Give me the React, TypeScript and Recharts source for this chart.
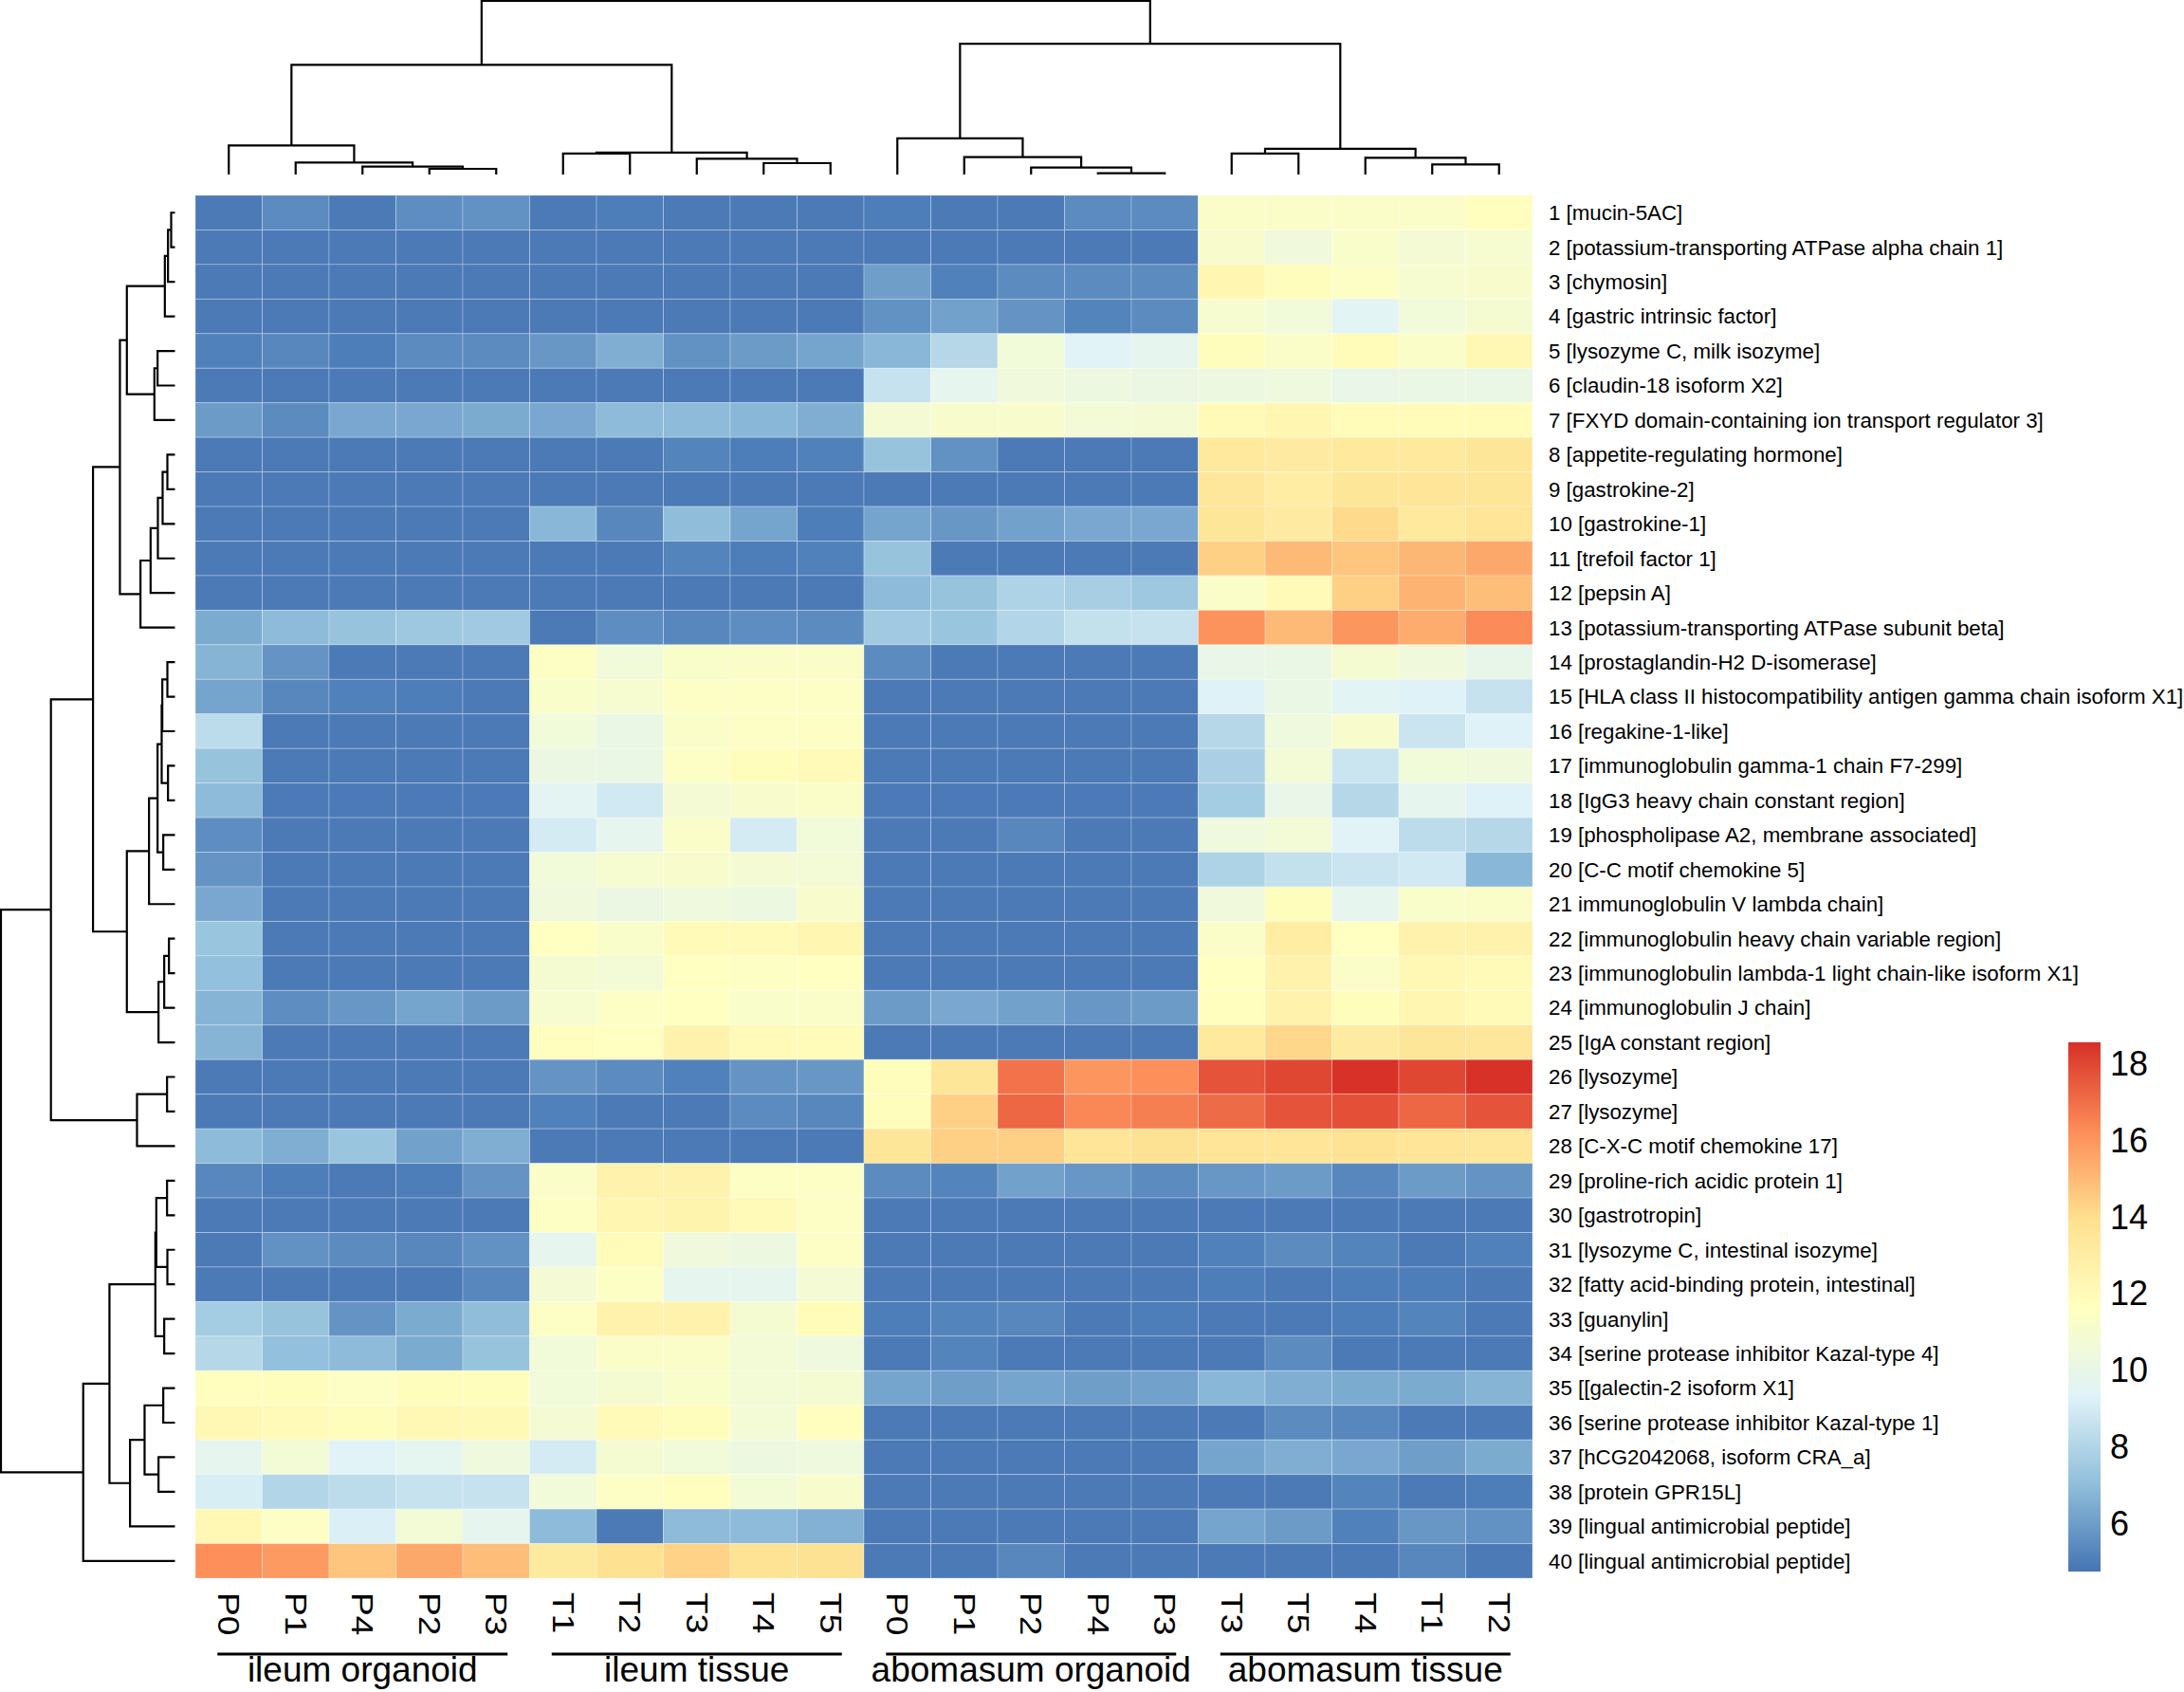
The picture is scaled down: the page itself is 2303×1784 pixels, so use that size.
import React from "react";
import { ScatterChart, Scatter, XAxis, YAxis, BarChart, Bar } from "recharts";

const FONT = "'Liberation Sans', Arial, Helvetica, sans-serif";

const colLabels = ["P0", "P1", "P4", "P2", "P3", "T1", "T2", "T3", "T4", "T5", "P0", "P1", "P2", "P4", "P3", "T3", "T5", "T4", "T1", "T2"];
const groupLabels = ["ileum organoid", "ileum tissue", "abomasum organoid", "abomasum tissue"];

const rowLabels = [
  "1 [mucin-5AC]",
  "2 [potassium-transporting ATPase alpha chain 1]",
  "3 [chymosin]",
  "4 [gastric intrinsic factor]",
  "5 [lysozyme C, milk isozyme]",
  "6 [claudin-18 isoform X2]",
  "7 [FXYD domain-containing ion transport regulator 3]",
  "8 [appetite-regulating hormone]",
  "9 [gastrokine-2]",
  "10 [gastrokine-1]",
  "11 [trefoil factor 1]",
  "12 [pepsin A]",
  "13 [potassium-transporting ATPase subunit beta]",
  "14 [prostaglandin-H2 D-isomerase]",
  "15 [HLA class II histocompatibility antigen gamma chain isoform X1]",
  "16 [regakine-1-like]",
  "17 [immunoglobulin gamma-1 chain F7-299]",
  "18 [IgG3 heavy chain constant region]",
  "19 [phospholipase A2, membrane associated]",
  "20 [C-C motif chemokine 5]",
  "21 immunoglobulin V lambda chain]",
  "22 [immunoglobulin heavy chain variable region]",
  "23 [immunoglobulin lambda-1 light chain-like isoform X1]",
  "24 [immunoglobulin J chain]",
  "25 [IgA constant region]",
  "26 [lysozyme]",
  "27 [lysozyme]",
  "28 [C-X-C motif chemokine 17]",
  "29 [proline-rich acidic protein 1]",
  "30 [gastrotropin]",
  "31 [lysozyme C, intestinal isozyme]",
  "32 [fatty acid-binding protein, intestinal]",
  "33 [guanylin]",
  "34 [serine protease inhibitor Kazal-type 4]",
  "35 [[galectin-2 isoform X1]",
  "36 [serine protease inhibitor Kazal-type 1]",
  "37 [hCG2042068, isoform CRA_a]",
  "38 [protein GPR15L]",
  "39 [lingual antimicrobial peptide]",
  "40 [lingual antimicrobial peptide]",
];

// values per group, one row of 5 columns per protein (display order)
const ileumOrganoid = [
  [4.9, 5.4, 4.9, 5.5, 5.6], [4.9, 4.9, 4.9, 4.9, 4.9], [4.9, 4.9, 4.9, 4.9, 4.9], [4.9, 4.9, 4.9, 4.9, 4.9],
  [5.1, 5.3, 5.0, 5.4, 5.4], [4.9, 4.9, 4.9, 4.9, 4.9], [5.9, 5.4, 6.3, 6.3, 6.4], [4.9, 4.9, 4.9, 4.9, 4.9],
  [4.9, 4.9, 4.9, 4.9, 4.9], [4.9, 4.9, 4.9, 4.9, 4.9], [4.9, 4.9, 4.9, 4.9, 4.9], [4.9, 4.9, 4.9, 4.9, 4.9],
  [6.4, 6.9, 7.2, 7.4, 7.5], [6.7, 5.7, 4.9, 4.9, 4.9], [6.2, 5.3, 5.1, 5.0, 4.9], [8.3, 4.9, 4.9, 4.9, 4.9],
  [7.2, 4.9, 4.9, 4.9, 4.9], [6.9, 4.9, 4.9, 4.9, 4.9], [5.5, 4.9, 4.9, 4.9, 4.9], [5.7, 4.9, 4.9, 4.9, 4.9],
  [6.3, 4.9, 4.9, 4.9, 4.9], [7.3, 4.9, 4.9, 4.9, 4.9], [7.1, 4.9, 4.9, 4.9, 4.9], [6.7, 5.5, 5.8, 6.2, 5.9],
  [6.7, 4.9, 4.9, 4.9, 4.9], [4.9, 4.9, 4.9, 4.9, 4.9], [4.9, 4.9, 4.9, 4.9, 4.9], [6.9, 6.5, 7.3, 6.1, 6.5],
  [5.3, 5.0, 4.9, 5.0, 5.7], [4.9, 4.9, 4.9, 4.9, 4.9], [4.9, 5.6, 5.4, 5.3, 5.6], [4.9, 4.9, 4.9, 4.9, 5.3],
  [7.6, 7.2, 5.7, 6.4, 7.0], [8.1, 7.1, 6.9, 6.4, 7.2], [11.7, 11.8, 11.4, 11.8, 11.8], [12.2, 12.0, 11.8, 12.2, 12.1],
  [9.8, 10.7, 9.4, 9.7, 10.4], [9.1, 8.0, 8.3, 8.6, 8.6], [12.2, 11.4, 9.2, 10.7, 9.8], [16.2, 15.9, 14.7, 15.5, 14.9],
];

const ileumTissue = [
  [4.9, 5.0, 4.9, 4.9, 4.9], [4.9, 4.9, 4.9, 4.9, 4.9], [4.9, 4.9, 4.9, 4.9, 4.9], [4.9, 4.9, 4.9, 4.9, 4.9],
  [5.8, 6.5, 5.6, 5.9, 6.2], [4.9, 4.9, 4.9, 4.9, 4.9], [6.3, 6.9, 6.9, 6.8, 6.5], [4.9, 4.9, 5.2, 5.0, 5.1],
  [4.9, 4.9, 4.9, 4.9, 4.9], [6.8, 5.3, 7.0, 6.2, 5.0], [4.9, 4.9, 5.2, 5.0, 5.1], [4.9, 4.9, 4.9, 4.9, 4.9],
  [4.9, 5.5, 5.3, 5.5, 5.4], [11.5, 10.6, 11.2, 11.3, 11.3], [11.2, 11.0, 11.4, 11.4, 11.4], [10.6, 10.1, 11.3, 11.4, 11.5],
  [10.2, 10.1, 11.4, 11.8, 12.0], [9.6, 8.9, 10.8, 11.1, 11.3], [9.0, 9.8, 11.3, 9.0, 10.6], [10.6, 11.0, 11.1, 10.8, 10.7],
  [10.5, 10.2, 10.4, 10.3, 11.1], [11.6, 11.2, 12.0, 12.0, 12.3], [10.9, 10.7, 11.6, 11.5, 11.6], [11.0, 11.4, 11.6, 11.2, 11.3],
  [11.7, 11.6, 12.6, 12.0, 11.9], [5.7, 5.4, 5.1, 5.7, 5.8], [5.1, 4.9, 4.9, 5.4, 5.3], [4.9, 4.9, 4.9, 4.9, 4.9],
  [11.3, 12.6, 12.6, 11.5, 11.4], [11.5, 12.3, 12.5, 12.0, 11.4], [9.8, 11.9, 10.5, 10.3, 11.4], [10.8, 11.5, 9.8, 9.8, 10.8],
  [11.4, 12.6, 12.6, 10.9, 11.9], [10.6, 11.3, 11.3, 10.7, 10.4], [10.6, 10.9, 11.2, 10.7, 10.9], [10.8, 12.0, 11.8, 10.7, 11.7],
  [9.0, 10.9, 10.6, 10.3, 10.4], [10.6, 11.4, 11.7, 10.7, 11.1], [6.9, 4.9, 6.9, 6.9, 6.6], [13.2, 13.9, 14.3, 13.7, 13.8],
];

const abomasumOrganoid = [
  [5.0, 4.9, 4.9, 5.4, 5.4], [4.9, 4.9, 4.9, 4.9, 4.9], [6.0, 5.1, 5.4, 5.4, 5.4], [5.6, 6.1, 5.7, 5.2, 5.4],
  [6.8, 8.1, 10.6, 9.4, 9.8], [8.6, 9.8, 10.5, 10.3, 10.2], [10.8, 11.1, 11.1, 10.7, 10.8], [7.2, 5.6, 4.9, 4.9, 4.9],
  [4.9, 4.9, 4.9, 4.9, 4.9], [6.2, 5.8, 6.1, 6.3, 6.3], [7.2, 4.9, 4.9, 4.9, 4.9], [6.9, 7.2, 7.9, 7.7, 7.4],
  [7.5, 7.3, 8.0, 8.5, 8.6], [5.4, 4.9, 4.9, 4.9, 4.9], [4.9, 4.9, 4.9, 4.9, 4.9], [4.9, 4.9, 4.9, 4.9, 4.9],
  [4.9, 4.9, 4.9, 4.9, 4.9], [4.9, 4.9, 4.9, 4.9, 4.9], [4.9, 4.9, 5.3, 4.9, 4.9], [4.9, 4.9, 4.9, 4.9, 4.9],
  [4.9, 4.9, 4.9, 4.9, 4.9], [4.9, 4.9, 4.9, 4.9, 4.9], [4.9, 4.9, 4.9, 4.9, 4.9], [5.9, 6.3, 6.1, 5.8, 5.9],
  [4.9, 4.9, 4.9, 4.9, 4.9], [11.8, 13.5, 16.9, 16.0, 16.2], [11.8, 14.4, 17.2, 16.4, 16.6], [13.5, 14.4, 14.4, 13.6, 13.8],
  [5.4, 5.2, 6.1, 5.8, 5.4], [4.9, 4.9, 4.9, 4.9, 4.9], [4.9, 4.9, 4.9, 4.9, 4.9], [4.9, 4.9, 4.9, 4.9, 4.9],
  [5.0, 5.2, 5.3, 4.9, 5.0], [4.9, 5.2, 4.9, 4.9, 4.9], [6.2, 6.0, 6.2, 6.0, 6.1], [4.9, 4.9, 4.9, 4.9, 4.9],
  [4.9, 4.9, 4.9, 4.9, 4.9], [4.9, 4.9, 4.9, 4.9, 4.9], [4.9, 4.9, 4.9, 4.9, 4.9], [4.9, 4.9, 5.3, 4.9, 4.9],
];

const abomasumTissue = [
  [11.3, 11.3, 11.3, 11.3, 11.7], [11.1, 10.5, 11.2, 10.8, 11.0], [12.3, 11.8, 11.4, 11.0, 11.1], [11.0, 10.6, 9.5, 10.6, 10.9],
  [11.8, 11.3, 11.9, 11.3, 12.2], [10.3, 10.4, 10.0, 10.1, 10.1], [12.0, 12.3, 11.9, 11.9, 11.9], [13.3, 13.1, 13.3, 13.3, 13.5],
  [13.4, 13.0, 13.5, 13.6, 13.5], [13.5, 13.1, 14.1, 13.3, 13.6], [14.4, 15.0, 14.7, 15.1, 15.5], [11.3, 12.0, 14.4, 15.2, 14.9],
  [16.1, 15.0, 16.0, 15.4, 16.3], [10.0, 10.1, 10.9, 10.5, 9.9], [9.3, 10.1, 9.5, 9.3, 8.6], [8.1, 10.4, 11.1, 8.7, 9.3],
  [7.8, 10.7, 8.7, 10.6, 10.5], [7.6, 10.0, 8.1, 9.8, 9.3], [10.4, 10.7, 9.4, 8.3, 8.1], [7.9, 8.5, 8.7, 8.9, 6.8],
  [10.5, 11.8, 9.8, 11.2, 11.3], [11.3, 13.0, 11.6, 12.6, 12.6], [11.6, 12.6, 11.3, 12.2, 12.0], [11.7, 12.6, 11.8, 12.3, 12.0],
  [13.3, 14.2, 13.1, 13.5, 13.4], [17.7, 18.0, 18.5, 18.0, 18.5], [17.1, 17.7, 17.8, 17.2, 17.7], [13.6, 13.6, 13.7, 13.6, 13.4],
  [5.8, 5.9, 5.3, 5.9, 5.7], [4.9, 4.9, 4.9, 4.9, 4.9], [5.1, 5.4, 5.2, 4.9, 5.1], [5.0, 4.9, 5.0, 5.0, 4.9],
  [4.9, 4.9, 5.0, 5.2, 4.9], [4.9, 5.4, 4.9, 4.9, 4.9], [6.8, 6.5, 6.4, 6.4, 6.7], [4.9, 5.4, 5.3, 4.9, 4.9],
  [6.2, 6.5, 6.3, 6.0, 6.4], [4.9, 4.9, 5.2, 4.9, 5.0], [6.2, 5.9, 5.1, 5.8, 5.6], [4.9, 4.9, 4.9, 5.3, 4.9],
];

const legendRange: [number, number] = [4.73, 18.56];
const legendTicks = [6, 8, 10, 12, 14, 16, 18];
const palette = ["#4575B4", "#91BFDB", "#E0F3F8", "#FFFFBF", "#FEE090", "#FC8D59", "#D73027"];

// hclust-style merges: negative = leaf (1-based display position), positive = earlier merge; third = height
const colMerges: [number, number, number][] = [
  [-14, -15, 4], [-13, 1, 22], [-4, -5, 18], [-3, 3, 25], [-12, 2, 55],
  [-9, -10, 36], [-2, 4, 38], [-8, 6, 50], [-19, -20, 32], [-18, 9, 53],
  [-6, -7, 66], [-16, -17, 66], [11, 8, 69], [-1, 7, 92], [12, 10, 81],
  [-11, 5, 114], [14, 13, 346], [16, 15, 413], [17, 18, 548],
];
const colRoot = 548;

const rowMerges: [number, number, number][] = [
  [-1, -2, 12], [-3, 1, 22], [-4, 2, 32], [-5, -6, 55], [-7, 4, 65],
  [3, 5, 152], [-8, -9, 24], [-10, 7, 39], [-11, 8, 54], [-12, 9, 77],
  [-13, 10, 109], [6, 11, 174], [-14, -15, 24], [-16, 13, 40], [-17, -18, 22],
  [14, 15, 42], [-19, -20, 37], [16, 17, 55], [-21, 18, 82], [-22, -23, 19],
  [-24, 20, 34], [-25, 21, 52], [19, 22, 152], [12, 23, 259], [-26, -27, 25],
  [-28, 25, 120], [24, 26, 392], [-29, -30, 25], [-31, -32, 24], [28, 29, 59],
  [-33, -34, 34], [30, 31, 62], [-35, -36, 37], [-37, -38, 52], [33, 34, 96],
  [-39, 35, 142], [32, 36, 207], [-40, 37, 290], [27, 38, 550],
];
const rowRoot = 550;

const W = 2303;
const H = 1784;
const HM_LEFT = 206;
const HM_TOP = 206;
const HM_RIGHT = 1616;
const HM_BOTTOM = 1664;
const CELL_W = (HM_RIGHT - HM_LEFT) / colLabels.length;
const CELL_H = (HM_BOTTOM - HM_TOP) / rowLabels.length;
const ROW_AXIS_W = 680;
const COL_AXIS_H = H - HM_BOTTOM;
const TREE_SIZE = 186;

const hexToRgb = (h: string) => [1, 3, 5].map((i) => parseInt(h.slice(i, i + 2), 16));

const heatColor = (v: number) => {
  const [lo, hi] = legendRange;
  const t = Math.min(Math.max((v - lo) / (hi - lo), 0), 1) * (palette.length - 1);
  const i = Math.min(Math.floor(t), palette.length - 2);
  const f = t - i;
  const a = hexToRgb(palette[i]);
  const b = hexToRgb(palette[i + 1]);
  return `rgb(${a.map((x, k) => Math.round(x + (b[k] - x) * f)).join(",")})`;
};

const groups = [ileumOrganoid, ileumTissue, abomasumOrganoid, abomasumTissue];
const cells = rowLabels.flatMap((_, r) =>
  groups.flatMap((g, gi) => g[r].map((v, c) => ({ col: gi * 5 + c + 0.5, row: r + 0.5, v })))
);

// turn merges into u-shaped links: p = leaf axis position, h = merge height
const dendroLinks = (merges: [number, number, number][]) => {
  const pos: number[] = [];
  const hgt: number[] = [];
  const node = (id: number) => (id < 0 ? [-id - 0.5, 0] : [pos[id - 1], hgt[id - 1]]);
  return merges.map(([a, b, h], i) => {
    const [pa, ha] = node(a);
    const [pb, hb] = node(b);
    pos[i] = (pa + pb) / 2;
    hgt[i] = h;
    return [
      { p: pa, h: ha },
      { p: pa, h },
      { p: pb, h },
      { p: pb, h: hb },
    ];
  });
};

const colLinks = dendroLinks(colMerges);
const rowLinks = dendroLinks(rowMerges);

const HeatCell = (props: any) => {
  const { cx, cy, payload } = props;
  return (
    <rect
      x={cx - CELL_W / 2}
      y={cy - CELL_H / 2}
      width={CELL_W}
      height={CELL_H}
      fill={heatColor(payload.v)}
      stroke="rgba(255,255,255,0.28)"
      strokeWidth={1}
    />
  );
};

const ColTick = (props: any) => {
  const { x, y, payload } = props;
  const i = Math.floor(payload.value);
  return (
    <g>
      <g transform={`translate(${x} ${y}) scale(1 1.2) rotate(90)`}>
        <text x={0} y={0} dy="0.36em" fontSize={31} fontFamily={FONT} fill="#000">
          {colLabels[i]}
        </text>
      </g>
      {i % 5 === 2 && (
        <g>
          <line x1={x - 2.17 * CELL_W} x2={x + 2.17 * CELL_W} y1={y + 65} y2={y + 65} stroke="#000" strokeWidth={3} />
          <text x={x} y={y + 94} textAnchor="middle" fontSize={37} fontFamily={FONT} fill="#000">
            {groupLabels[(i - 2) / 5]}
          </text>
        </g>
      )}
    </g>
  );
};

const noDot = () => <g />;
const linkLine = { stroke: "#000", strokeWidth: 2.2 };

const App = () => {
  const legendData = [{ name: "scale", range: legendRange }];
  return (
    <div style={{ position: "relative", width: W, height: H, background: "#fff", overflow: "hidden" }}>
      <style>{"body{margin:0}"}</style>

      <div style={{ position: "absolute", left: 0, top: 0 }}>
        <ScatterChart
          width={W}
          height={H}
          margin={{ top: HM_TOP, left: HM_LEFT, right: W - HM_RIGHT - ROW_AXIS_W, bottom: 0 }}
        >
          <XAxis
            type="number"
            dataKey="col"
            domain={[0, colLabels.length]}
            ticks={colLabels.map((_, i) => i + 0.5)}
            interval={0}
            height={COL_AXIS_H}
            axisLine={false}
            tickLine={false}
            tickSize={0}
            tickMargin={15}
            tick={<ColTick />}
          />
          <YAxis
            type="number"
            dataKey="row"
            orientation="right"
            reversed
            domain={[0, rowLabels.length]}
            ticks={rowLabels.map((_, i) => i + 0.5)}
            tickFormatter={(v: number) => rowLabels[Math.floor(v)]}
            interval={0}
            width={ROW_AXIS_W}
            axisLine={false}
            tickLine={false}
            tickSize={0}
            tickMargin={17}
            tick={{ fontSize: 22.3, fill: "#000", fontFamily: FONT }}
          />
          <Scatter data={cells} shape={HeatCell} isAnimationActive={false} />
        </ScatterChart>
      </div>

      <div style={{ position: "absolute", left: HM_LEFT, top: 0 }}>
        <ScatterChart width={HM_RIGHT - HM_LEFT} height={TREE_SIZE} margin={{ top: 1, bottom: 2, left: 0, right: 0 }}>
          <XAxis type="number" dataKey="p" domain={[0, colLabels.length]} hide />
          <YAxis type="number" dataKey="h" domain={[0, colRoot]} hide />
          {colLinks.map((d, i) => (
            <Scatter key={i} data={d} line={linkLine} lineType="joint" shape={noDot} stroke="#000" isAnimationActive={false} />
          ))}
        </ScatterChart>
      </div>

      <div style={{ position: "absolute", left: 0, top: HM_TOP }}>
        <ScatterChart width={TREE_SIZE} height={HM_BOTTOM - HM_TOP} margin={{ top: 0, bottom: 0, left: 1, right: 1.5 }}>
          <XAxis type="number" dataKey="h" domain={[0, rowRoot]} reversed hide />
          <YAxis type="number" dataKey="p" domain={[0, rowLabels.length]} reversed hide />
          {rowLinks.map((d, i) => (
            <Scatter key={i} data={d} line={linkLine} lineType="joint" shape={noDot} stroke="#000" isAnimationActive={false} />
          ))}
        </ScatterChart>
      </div>

      <div style={{ position: "absolute", left: 2181, top: 1099 }}>
        <BarChart width={122} height={558} data={legendData} margin={{ top: 0, right: 0, bottom: 0, left: 0 }} barCategoryGap={0}>
          <defs>
            <linearGradient id="legendGrad" x1="0" y1="1" x2="0" y2="0">
              {palette.map((c, i) => (
                <stop key={c} offset={i / (palette.length - 1)} stopColor={c} />
              ))}
            </linearGradient>
          </defs>
          <XAxis dataKey="name" hide />
          <YAxis
            orientation="right"
            type="number"
            domain={legendRange}
            ticks={legendTicks}
            interval={0}
            allowDataOverflow
            width={88}
            axisLine={false}
            tickLine={false}
            tickSize={0}
            tickMargin={10}
            tick={{ fontSize: 36, fill: "#000", fontFamily: FONT }}
          />
          <Bar dataKey="range" fill="url(#legendGrad)" isAnimationActive={false} />
        </BarChart>
      </div>
    </div>
  );
};

export default App;
